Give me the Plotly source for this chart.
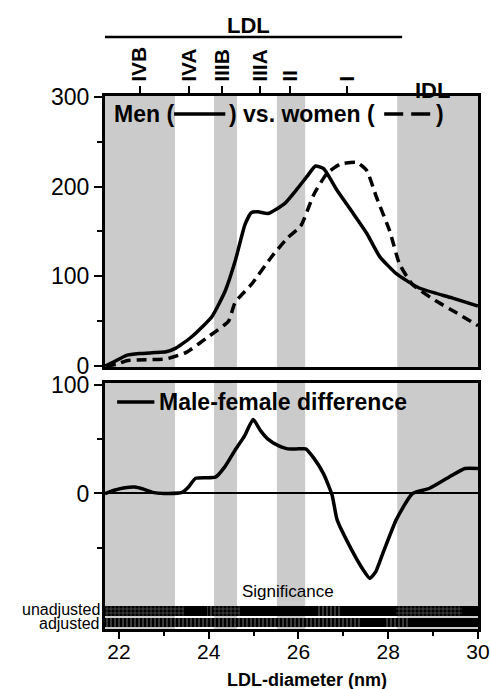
import plotly.graph_objects as go

# ---------------- data ----------------
men_x = [21.70, 21.90, 22.17, 22.46, 22.80, 23.05, 23.27, 23.63, 24.07, 24.37, 24.59, 24.81,
         24.95, 25.10, 25.32, 25.69, 25.98, 26.20, 26.38, 26.56, 26.86, 27.22, 27.52, 27.81,
         28.18, 28.69, 29.42, 30.00]
men_y = [0, 5, 12, 14, 15, 16, 20, 33, 55, 84, 117, 158,
         171, 172, 170, 181, 198, 212, 223, 220, 196, 170, 148, 122,
         103, 87, 76, 67]

women_x = [21.70, 21.95, 22.17, 22.60, 23.05, 23.49, 24.00, 24.44, 24.59, 24.95, 25.39, 25.76,
           26.05, 26.34, 26.64, 26.93, 27.30, 27.52, 27.74, 28.03, 28.25, 28.54, 29.05, 29.50, 30.00]
women_y = [0, 2, 6, 7, 8, 15, 33, 50, 71, 91, 121, 143,
           156, 191, 215, 225, 227, 218, 188, 151, 114, 91, 73, 60, 45]

diff_x = [21.69, 21.90, 22.10, 22.35, 22.55, 22.75, 23.00, 23.41, 23.55, 23.71, 24.15, 24.35,
          24.59, 24.80, 24.99, 25.15, 25.32, 25.55, 25.76, 26.00, 26.16, 26.35, 26.56, 26.75,
          26.86, 27.15, 27.44, 27.59, 27.72, 27.88, 28.18, 28.54, 28.91, 29.35, 29.71, 30.00]
diff_y = [0, 3, 5, 6, 4, 1, 0, 1, 6, 14, 15, 24,
          40, 53, 68, 58, 50, 44, 41, 41, 41, 32, 18, -1.5,
          -24, -49, -70, -78, -72, -55, -24, 0, 4.6, 15, 23, 23]

band_starts = [21.69, 24.12, 25.52, 28.20]
band_ends = [23.25, 24.63, 26.15, 30.00]

subclass_pos = [22.46, 23.56, 24.29, 25.14, 25.82, 27.08]
subclass_lab = ["IVB", "IVA", "IIIB", "IIIA", "II", "I"]

unadj_start = [21.69, 23.45, 23.96, 24.10, 24.70, 26.42, 26.97, 28.18, 29.65]
unadj_end = [23.45, 23.96, 24.10, 24.70, 26.42, 26.97, 28.18, 29.65, 30.00]
unadj_pat = ["+", "", "|", "+", "", "|", "", "+", ""]

adj_start = [21.69, 27.36, 27.96, 28.46]
adj_end = [27.36, 27.96, 28.46, 30.00]
adj_pat = ["|", "", "|", ""]

x_ticks = [22, 24, 26, 28, 30]
x_minor = [23, 25, 27, 29]

XR = [21.69, 30.0]
FONT = "Liberation Sans, Arial, sans-serif"

fig = go.Figure()

# curves
fig.add_trace(go.Scatter(x=men_x, y=men_y, mode="lines", xaxis="x", yaxis="y",
                         line=dict(color="black", width=3.5, shape="spline", smoothing=0.5),
                         showlegend=False, hoverinfo="skip"))
fig.add_trace(go.Scatter(x=women_x, y=women_y, mode="lines", xaxis="x", yaxis="y",
                         line=dict(color="black", width=3.5, dash="10px,6px", shape="spline", smoothing=0.5),
                         showlegend=False, hoverinfo="skip"))
fig.add_trace(go.Scatter(x=diff_x, y=diff_y, mode="lines", xaxis="x2", yaxis="y2",
                         line=dict(color="black", width=3.5, shape="spline", smoothing=0.5),
                         showlegend=False, hoverinfo="skip"))
# invisible trace to activate top subclass axis
fig.add_trace(go.Scatter(x=XR, y=[0, 0], mode="markers", xaxis="x3", yaxis="y",
                         marker=dict(opacity=0), showlegend=False, hoverinfo="skip"))

# significance bars
def sig_row(starts, ends, pats, yc, w):
    fig.add_trace(go.Bar(
        orientation="h", xaxis="x2", yaxis="y2",
        y=[yc] * len(starts), base=starts,
        x=[e - s for s, e in zip(starts, ends)],
        width=w,
        marker=dict(color="black", line=dict(width=0),
                    pattern=dict(shape=pats, fgcolor="white", bgcolor="black",
                                 size=4, solidity=0.22)),
        showlegend=False, hoverinfo="skip"))

sig_row(unadj_start, unadj_end, unadj_pat, -108, 8.8)
sig_row(adj_start, adj_end, adj_pat, -118.6, 8.0)

shapes = []
for s, e in zip(band_starts, band_ends):
    for xr, yr in (("x", "y domain"), ("x2", "y2 domain")):
        shapes.append(dict(type="rect", xref=xr, yref=yr, x0=s, x1=e, y0=0, y1=1,
                           fillcolor="#cbcbcb", line=dict(width=0), layer="below"))

# legend line samples
shapes.append(dict(type="line", xref="x", yref="y", x0=23.23, x1=24.37, y0=281, y1=281,
                   line=dict(color="black", width=3.5)))
shapes.append(dict(type="line", xref="x", yref="y", x0=27.91, x1=28.95, y0=281, y1=281,
                   line=dict(color="black", width=3.5, dash="19px,8px")))
shapes.append(dict(type="line", xref="x2", yref="y2", x0=21.96, x1=22.79, y0=84, y1=84,
                   line=dict(color="black", width=3.5)))
# LDL bar
shapes.append(dict(type="line", xref="x", yref="paper", x0=21.67, x1=28.31, y0=1.1107, y1=1.1107,
                   line=dict(color="black", width=2.5)))

bold = dict(family=FONT, size=23, color="black", weight="bold")
small = dict(family=FONT, size=16, color="black")
annotations = [
    dict(text="Men (", x=21.846, y=281, xref="x", yref="y", xanchor="left", yanchor="middle",
         showarrow=False, font=bold),
    dict(text=") vs. women (", x=24.40, y=281, xref="x", yref="y", xanchor="left", yanchor="middle",
         showarrow=False, font=bold),
    dict(text=")", x=29.03, y=281, xref="x", yref="y", xanchor="left", yanchor="middle",
         showarrow=False, font=bold),
    dict(text="Male-female difference", x=22.84, y=84, xref="x2", yref="y2", xanchor="left",
         yanchor="middle", showarrow=False, font=bold),
    dict(text="Significance", x=25.76, y=-90.5, xref="x2", yref="y2", xanchor="center",
         yanchor="middle", showarrow=False, font=dict(family=FONT, size=17, color="black")),
    dict(text="unadjusted", x=-0.012, y=-106.5, xref="paper", yref="y2", xanchor="right",
         yanchor="middle", showarrow=False, font=small, borderpad=0),
    dict(text="adjusted", x=-0.012, y=-119.8, xref="paper", yref="y2", xanchor="right",
         yanchor="middle", showarrow=False, font=small, borderpad=0),
    dict(text="LDL", x=24.88, y=1.1332, xref="x", yref="paper", xanchor="center", yanchor="middle",
         showarrow=False, font=dict(family=FONT, size=22, color="black", weight="bold")),
    dict(text="IDL", x=28.99, y=0.984, xref="x", yref="paper", xanchor="center", yanchor="bottom",
         showarrow=False, font=dict(family=FONT, size=22, color="black", weight="bold")),
    dict(text="LDL-diameter (nm)", x=26.2, y=-0.096, xref="x2", yref="paper", xanchor="center",
         yanchor="middle", showarrow=False,
         font=dict(family=FONT, size=18, color="black", weight="bold")),
]

axis_common = dict(showgrid=False, showline=True, linecolor="black", linewidth=3, mirror=True,
                   tickcolor="black", tickwidth=2, automargin=False,
                   tickfont=dict(family=FONT, size=23, color="black"))

fig.update_layout(
    width=490, height=689,
    margin=dict(l=105, r=12, t=96, b=60, autoexpand=False),
    paper_bgcolor="white", plot_bgcolor="white",
    barmode="overlay", bargap=0,
    showlegend=False,
    shapes=shapes, annotations=annotations,
    xaxis=dict(domain=[0, 1], anchor="y", range=XR, showticklabels=False, ticks="",
               zeroline=False, **{k: v for k, v in axis_common.items() if k != "tickfont"}),
    yaxis=dict(domain=[0.4916, 1], anchor="x", range=[-1, 301], zeroline=False,
               tickvals=[0, 100, 200, 300], ticks="outside", ticklen=8,
               minor=dict(tickvals=[50, 150, 250], ticks="outside", ticklen=5, tickcolor="black",
                          tickwidth=2),
               **axis_common),
    xaxis3=dict(overlaying="x", anchor="y", side="top", range=XR, showgrid=False, showline=False,
                zeroline=False, tickvals=subclass_pos, ticktext=subclass_lab, tickangle=-90,
                ticks="outside", ticklen=9, tickwidth=2, tickcolor="black", automargin=False,
                tickfont=dict(family=FONT, size=21, color="black", weight="bold")),
    xaxis2=dict(domain=[0, 1], anchor="y2", range=XR, zeroline=False,
                tickvals=x_ticks, ticks="outside", ticklen=7, ticklabelstandoff=-5,
                ticklabeloverflow="allow",
                minor=dict(tickvals=x_minor, ticks="outside", ticklen=4, tickcolor="black",
                           tickwidth=2),
                **{**axis_common, "tickfont": dict(family=FONT, size=21, color="black")}),
    yaxis2=dict(domain=[0, 0.4615], anchor="x2", range=[-124.5, 101.5],
                zeroline=True, zerolinecolor="black", zerolinewidth=1.5,
                tickvals=[0, 100], ticks="outside", ticklen=8,
                minor=dict(tickvals=[-50, 50], ticks="outside", ticklen=5, tickcolor="black",
                           tickwidth=2),
                **axis_common),
)

fig.write_html("out.html")
